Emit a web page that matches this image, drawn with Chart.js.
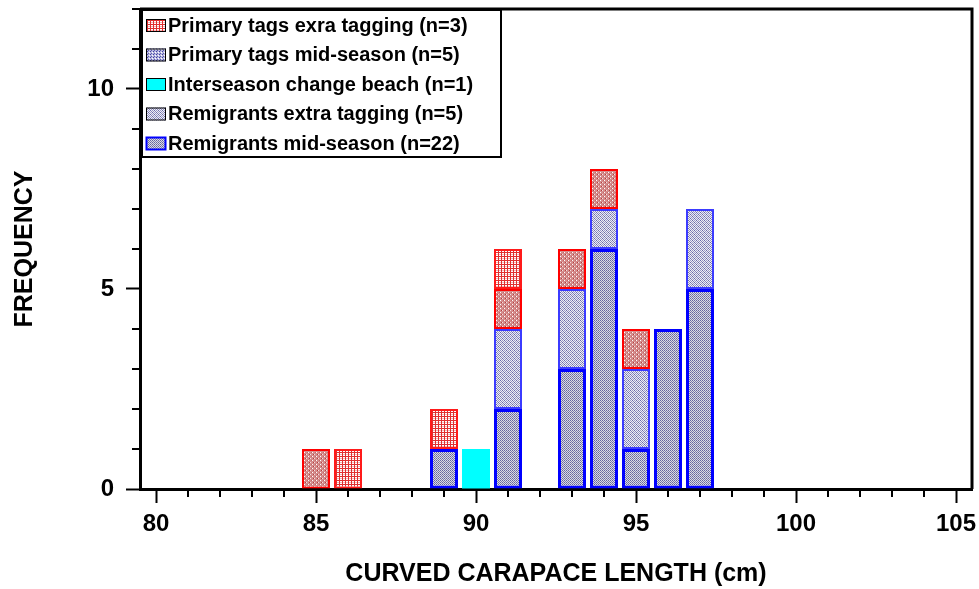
<!DOCTYPE html>
<html>
<head>
<meta charset="utf-8">
<script src="https://cdn.jsdelivr.net/npm/chart.js@4.4.1/dist/chart.umd.min.js"></script>
<style>
  html, body { margin: 0; padding: 0; background: #fff; }
</style>
</head>
<body>
<canvas id="histChart" width="979" height="589"></canvas>
<script>
// Length classes (cm) and frequencies per group
const lengths = [85, 86, 89, 90, 91, 93, 94, 95, 96, 97];
const remigrantsMid = [0, 0, 1, 0, 2, 3, 6, 1, 4, 5];
const remigrantsExtra = [0, 0, 0, 0, 2, 2, 1, 2, 0, 2];
const interseason = [0, 0, 0, 1, 0, 0, 0, 0, 0, 0];
const primaryMid = [1, 0, 0, 0, 1, 1, 1, 1, 0, 0];
const primaryExtra = [0, 1, 1, 0, 1, 0, 0, 0, 0, 0];

const seriesNames = [
  'Remigrants mid-season (n=22)',
  'Remigrants extra tagging (n=5)',
  'Interseason change beach (n=1)',
  'Primary tags mid-season (n=5)',
  'Primary tags exra tagging (n=3)'
];
const xTickLabels = [80, 85, 90, 95, 100, 105];
const yTickLabels = [0, 5, 10];

const FONT = '"Liberation Sans", Arial, sans-serif';

// small tiled fills that imitate the hatching of the original
const tmp = document.createElement('canvas').getContext('2d');
function pat(w, h, bg, dots) {
  const c = document.createElement('canvas');
  c.width = w; c.height = h;
  const g = c.getContext('2d');
  g.fillStyle = bg;
  g.fillRect(0, 0, w, h);
  dots.forEach(d => { g.fillStyle = d[2]; g.fillRect(d[0], d[1], d[3] || 1, d[4] || 1); });
  return tmp.createPattern(c, 'repeat');
}

const fillRemMid = pat(2, 2, '#dadae6', [[0, 0, '#66669e'], [1, 1, '#8080a8']]);
const fillRemExtra = pat(4, 4, '#eeeef6', [[0, 0, '#6a6aa8'], [2, 0, '#9c9cc6'], [1, 1, '#8686b8'], [3, 1, '#9494c0'], [0, 2, '#9c9cc6'], [2, 2, '#6a6aa8'], [1, 3, '#9494c0'], [3, 3, '#8686b8']]);
const fillPrimMid = pat(4, 4, '#d48c8c', [[0, 0, '#ffffff'], [2, 2, '#f6dede'], [1, 2, '#b43c3c'], [3, 0, '#c46464']]);
const fillPrimExtra = pat(3, 4, '#ffffff', [[0, 0, '#e03030', 1, 4], [0, 0, '#e03030', 3, 1], [1, 2, '#f2b8b8'], [2, 2, '#f2b8b8']]);
const fillLegendPrimMid = pat(3, 3, '#b8b8e0', [[0, 0, '#4040a0'], [2, 1, '#ffffff'], [1, 2, '#5a5ab0']]);

function toPoints(values) {
  return lengths.map((x, i) => ({ x: x, y: values[i] === 0 ? null : values[i] }));
}

const data = {
  datasets: [
    { label: seriesNames[0], data: toPoints(remigrantsMid), backgroundColor: fillRemMid, borderColor: '#0000ff', borderWidth: 3 },
    { label: seriesNames[1], data: toPoints(remigrantsExtra), backgroundColor: fillRemExtra, borderColor: '#3b3bff', borderWidth: 2 },
    { label: seriesNames[2], data: toPoints(interseason), backgroundColor: '#00ffff', borderColor: '#00ffff', borderWidth: 0 },
    { label: seriesNames[3], data: toPoints(primaryMid), backgroundColor: fillPrimMid, borderColor: '#ff0000', borderWidth: 2 },
    { label: seriesNames[4], data: toPoints(primaryExtra), backgroundColor: fillPrimExtra, borderColor: '#ff1a1a', borderWidth: 2 }
  ]
};

// swatch styles for the boxed legend, listed top to bottom
const legendSwatches = [
  { fill: fillPrimExtra, stroke: '#000000', width: 1 },
  { fill: fillLegendPrimMid, stroke: '#000000', width: 1 },
  { fill: '#00ffff', stroke: '#000000', width: 1 },
  { fill: fillRemExtra, stroke: '#000000', width: 1 },
  { fill: fillRemMid, stroke: '#0000ff', width: 2 }
];

function integerTicks(from, to) {
  const t = [];
  for (let v = from; v <= to; v++) t.push({ value: v });
  return t;
}

// minor ticks, frame on top/right, and the boxed legend
const extras = {
  id: 'extras',
  afterDraw(chart) {
    const ctx = chart.ctx;
    const area = chart.chartArea;
    const xs = chart.scales.x, ys = chart.scales.y;
    ctx.save();
    ctx.strokeStyle = '#000';
    ctx.lineWidth = 2;
    ctx.beginPath();
    xs.ticks.forEach(t => {
      if (xTickLabels.includes(t.value)) return;
      const px = Math.round(xs.getPixelForValue(t.value));
      ctx.moveTo(px, area.bottom);
      ctx.lineTo(px, area.bottom + 8);
    });
    ys.ticks.forEach(t => {
      if (yTickLabels.includes(t.value)) return;
      const py = Math.round(ys.getPixelForValue(t.value));
      ctx.moveTo(area.left, py);
      ctx.lineTo(area.left - 8, py);
    });
    ctx.stroke();

    ctx.lineWidth = 3;
    ctx.beginPath();
    ctx.moveTo(area.left, area.top);
    ctx.lineTo(area.right, area.top);
    ctx.lineTo(area.right, area.bottom);
    ctx.stroke();

    // legend
    const lx = area.left + 2, ly = area.top + 1, lw = 359, lh = 147;
    ctx.fillStyle = '#fff';
    ctx.fillRect(lx, ly, lw, lh);
    ctx.lineWidth = 2;
    ctx.strokeStyle = '#000';
    ctx.strokeRect(lx, ly, lw, lh);
    ctx.font = 'bold 20px ' + FONT;
    ctx.textBaseline = 'middle';
    const order = data.datasets.slice().reverse();
    order.forEach((ds, i) => {
      const cy = ly + 15 + i * 29.5;
      const sw = legendSwatches[i];
      ctx.fillStyle = sw.fill;
      ctx.fillRect(lx + 4, cy - 6, 20, 13);
      ctx.lineWidth = sw.width;
      ctx.strokeStyle = sw.stroke;
      ctx.strokeRect(lx + 4.5, cy - 5.5, 19, 12);
      ctx.fillStyle = '#000';
      ctx.fillText(ds.label, lx + 26, cy + 1);
    });
    ctx.restore();
  }
};

const config = {
  type: 'bar',
  data: data,
  options: {
    responsive: false,
    animation: false,
    layout: { padding: { top: 9, right: 7, left: 0, bottom: 0 } },
    datasets: { bar: { barPercentage: 0.875, categoryPercentage: 1, borderSkipped: false } },
    plugins: {
      legend: { display: false },
      tooltip: { enabled: false }
    },
    scales: {
      x: {
        type: 'linear',
        stacked: true,
        offset: false,
        min: 79.5,
        max: 105.5,
        afterBuildTicks: s => { s.ticks = integerTicks(80, 105); },
        afterFit: s => { s.height = 100; s.paddingLeft = 0; s.paddingRight = 0; },
        ticks: {
          autoSkip: false,
          maxRotation: 0,
          padding: 7,
          color: '#000',
          font: { family: FONT, size: 24, weight: 'bold' },
          callback: v => xTickLabels.includes(v) ? String(v) : ''
        },
        grid: {
          offset: false,
          drawOnChartArea: false,
          tickLength: 14,
          tickWidth: 2,
          tickColor: c => xTickLabels.includes(c.tick && c.tick.value) ? '#000' : 'rgba(0,0,0,0)'
        },
        border: { display: true, color: '#000', width: 3 },
        title: {
          display: true,
          text: 'CURVED CARAPACE LENGTH (cm)',
          color: '#000',
          font: { family: FONT, size: 25, weight: 'bold' },
          padding: { top: 0, bottom: 0 }
        }
      },
      y: {
        stacked: true,
        min: 0,
        max: 12,
        afterBuildTicks: s => { s.ticks = integerTicks(0, 12); },
        afterFit: s => { s.width = 140; s.paddingTop = 0; s.paddingBottom = 0; },
        ticks: {
          autoSkip: false,
          padding: 12,
          color: '#000',
          font: { family: FONT, size: 24, weight: 'bold' },
          callback: v => yTickLabels.includes(v) ? String(v) : ''
        },
        grid: {
          drawOnChartArea: false,
          tickLength: 14,
          tickWidth: 2,
          tickColor: c => yTickLabels.includes(c.tick && c.tick.value) ? '#000' : 'rgba(0,0,0,0)'
        },
        border: { display: true, color: '#000', width: 3 },
        title: {
          display: true,
          text: 'FREQUENCY',
          color: '#000',
          font: { family: FONT, size: 25, weight: 'bold' },
          padding: { top: 10, bottom: 0 }
        }
      }
    }
  },
  plugins: [extras]
};

const histChart = new Chart(document.getElementById('histChart').getContext('2d'), config);
</script>
</body>
</html>
